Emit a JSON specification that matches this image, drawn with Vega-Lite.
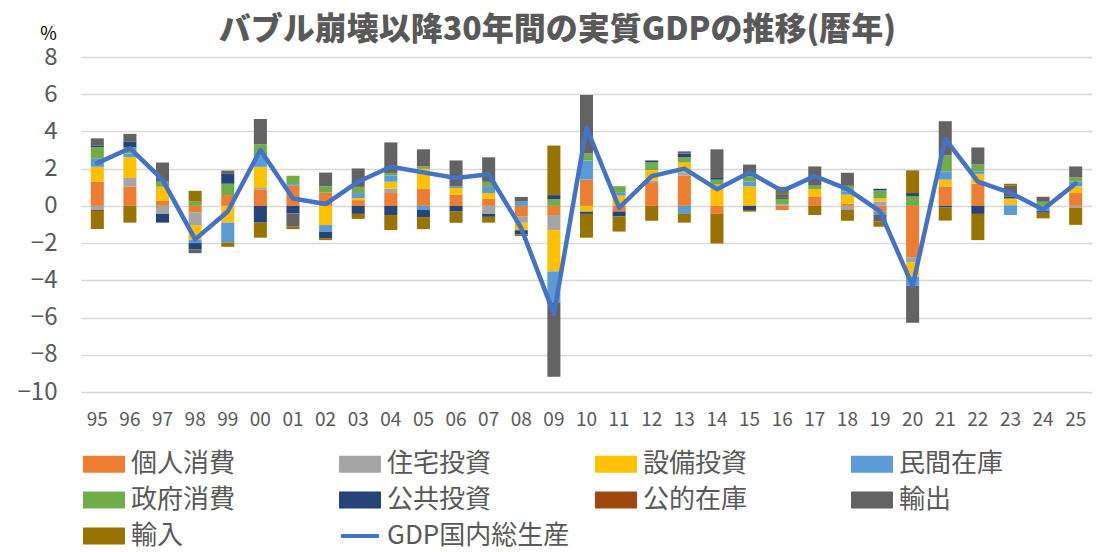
{
  "$schema": "https://vega.github.io/schema/vega-lite/v6.json",
  "autosize": "none",
  "width": 1011,
  "height": 335,
  "padding": {"left": 81, "top": 57, "right": 24, "bottom": 160},
  "background": "#ffffff",
  "config": {
    "font": "Noto Sans CJK JP",
    "view": {"stroke": null}
  },
  "title": {
    "text": "バブル崩壊以降30年間の実質GDPの推移(暦年)",
    "fontSize": 32,
    "fontWeight": 900,
    "color": "#595959",
    "anchor": "middle",
    "baseline": "alphabetic",
    "offset": 12,
    "dx": -29,
    "dy": 59
  },
  "datasets": {
    "seriesRank": [
      {"series": "個人消費", "rank": 1},
      {"series": "住宅投資", "rank": 2},
      {"series": "設備投資", "rank": 3},
      {"series": "民間在庫", "rank": 4},
      {"series": "政府消費", "rank": 5},
      {"series": "公共投資", "rank": 6},
      {"series": "公的在庫", "rank": 7},
      {"series": "輸出", "rank": 8},
      {"series": "輸入", "rank": 9}
    ],
    "contrib": [
      {"year": "95", "series": "個人消費", "value": 1.3},
      {"year": "95", "series": "住宅投資", "value": -0.22},
      {"year": "95", "series": "設備投資", "value": 0.8},
      {"year": "95", "series": "民間在庫", "value": 0.43},
      {"year": "95", "series": "政府消費", "value": 0.63},
      {"year": "95", "series": "公共投資", "value": 0.09},
      {"year": "95", "series": "公的在庫", "value": -0.1},
      {"year": "95", "series": "輸出", "value": 0.38},
      {"year": "95", "series": "輸入", "value": -0.92},

      {"year": "96", "series": "個人消費", "value": 1.03},
      {"year": "96", "series": "住宅投資", "value": 0.47},
      {"year": "96", "series": "設備投資", "value": 1.12},
      {"year": "96", "series": "民間在庫", "value": 0.2},
      {"year": "96", "series": "政府消費", "value": 0.33},
      {"year": "96", "series": "公共投資", "value": 0.29},
      {"year": "96", "series": "輸出", "value": 0.43},
      {"year": "96", "series": "輸入", "value": -0.9},

      {"year": "97", "series": "個人消費", "value": 0.27},
      {"year": "97", "series": "住宅投資", "value": -0.43},
      {"year": "97", "series": "設備投資", "value": 0.76},
      {"year": "97", "series": "政府消費", "value": 0.27},
      {"year": "97", "series": "公共投資", "value": -0.47},
      {"year": "97", "series": "輸出", "value": 1.03},

      {"year": "98", "series": "個人消費", "value": -0.34},
      {"year": "98", "series": "住宅投資", "value": -0.69},
      {"year": "98", "series": "設備投資", "value": -0.79},
      {"year": "98", "series": "民間在庫", "value": -0.18},
      {"year": "98", "series": "政府消費", "value": 0.23},
      {"year": "98", "series": "公共投資", "value": -0.34},
      {"year": "98", "series": "輸出", "value": -0.2},
      {"year": "98", "series": "輸入", "value": 0.58},

      {"year": "99", "series": "個人消費", "value": 0.58},
      {"year": "99", "series": "設備投資", "value": -0.9},
      {"year": "99", "series": "民間在庫", "value": -1.08},
      {"year": "99", "series": "政府消費", "value": 0.61},
      {"year": "99", "series": "公共投資", "value": 0.53},
      {"year": "99", "series": "輸出", "value": 0.18},
      {"year": "99", "series": "輸入", "value": -0.22},

      {"year": "00", "series": "個人消費", "value": 0.87},
      {"year": "00", "series": "住宅投資", "value": 0.09},
      {"year": "00", "series": "設備投資", "value": 1.14},
      {"year": "00", "series": "民間在庫", "value": 0.61},
      {"year": "00", "series": "政府消費", "value": 0.6},
      {"year": "00", "series": "公共投資", "value": -0.9},
      {"year": "00", "series": "輸出", "value": 1.36},
      {"year": "00", "series": "輸入", "value": -0.81},

      {"year": "01", "series": "個人消費", "value": 1.08},
      {"year": "01", "series": "民間在庫", "value": 0.09},
      {"year": "01", "series": "政府消費", "value": 0.45},
      {"year": "01", "series": "公共投資", "value": -0.4},
      {"year": "01", "series": "輸出", "value": -0.72},
      {"year": "01", "series": "輸入", "value": -0.13},

      {"year": "02", "series": "個人消費", "value": 0.72},
      {"year": "02", "series": "設備投資", "value": -1.03},
      {"year": "02", "series": "民間在庫", "value": -0.36},
      {"year": "02", "series": "政府消費", "value": 0.33},
      {"year": "02", "series": "公共投資", "value": -0.34},
      {"year": "02", "series": "輸出", "value": 0.74},
      {"year": "02", "series": "輸入", "value": -0.11},

      {"year": "03", "series": "個人消費", "value": 0.31},
      {"year": "03", "series": "設備投資", "value": 0.11},
      {"year": "03", "series": "民間在庫", "value": 0.27},
      {"year": "03", "series": "政府消費", "value": 0.33},
      {"year": "03", "series": "公共投資", "value": -0.43},
      {"year": "03", "series": "輸出", "value": 0.99},
      {"year": "03", "series": "輸入", "value": -0.27},

      {"year": "04", "series": "個人消費", "value": 0.69},
      {"year": "04", "series": "住宅投資", "value": 0.23},
      {"year": "04", "series": "設備投資", "value": 0.38},
      {"year": "04", "series": "民間在庫", "value": 0.34},
      {"year": "04", "series": "政府消費", "value": 0.13},
      {"year": "04", "series": "公共投資", "value": -0.49},
      {"year": "04", "series": "輸出", "value": 1.64},
      {"year": "04", "series": "輸入", "value": -0.81},

      {"year": "05", "series": "個人消費", "value": 0.92},
      {"year": "05", "series": "設備投資", "value": 1.07},
      {"year": "05", "series": "民間在庫", "value": -0.22},
      {"year": "05", "series": "政府消費", "value": 0.13},
      {"year": "05", "series": "公共投資", "value": -0.38},
      {"year": "05", "series": "輸出", "value": 0.92},
      {"year": "05", "series": "輸入", "value": -0.65},

      {"year": "06", "series": "個人消費", "value": 0.6},
      {"year": "06", "series": "設備投資", "value": 0.36},
      {"year": "06", "series": "民間在庫", "value": 0.09},
      {"year": "06", "series": "公共投資", "value": -0.31},
      {"year": "06", "series": "輸出", "value": 1.39},
      {"year": "06", "series": "輸入", "value": -0.6},

      {"year": "07", "series": "個人消費", "value": 0.38},
      {"year": "07", "series": "住宅投資", "value": -0.43},
      {"year": "07", "series": "設備投資", "value": 0.31},
      {"year": "07", "series": "民間在庫", "value": 0.33},
      {"year": "07", "series": "政府消費", "value": 0.27},
      {"year": "07", "series": "公共投資", "value": -0.16},
      {"year": "07", "series": "輸出", "value": 1.32},
      {"year": "07", "series": "輸入", "value": -0.31},

      {"year": "08", "series": "個人消費", "value": -0.58},
      {"year": "08", "series": "住宅投資", "value": -0.33},
      {"year": "08", "series": "設備投資", "value": -0.4},
      {"year": "08", "series": "民間在庫", "value": 0.23},
      {"year": "08", "series": "公共投資", "value": -0.23},
      {"year": "08", "series": "輸出", "value": 0.25},
      {"year": "08", "series": "輸入", "value": -0.08},

      {"year": "09", "series": "個人消費", "value": -0.49},
      {"year": "09", "series": "住宅投資", "value": -0.81},
      {"year": "09", "series": "設備投資", "value": -2.22},
      {"year": "09", "series": "民間在庫", "value": -1.66},
      {"year": "09", "series": "政府消費", "value": 0.36},
      {"year": "09", "series": "公共投資", "value": 0.22},
      {"year": "09", "series": "輸出", "value": -4.0},
      {"year": "09", "series": "輸入", "value": 2.66},

      {"year": "10", "series": "個人消費", "value": 1.41},
      {"year": "10", "series": "設備投資", "value": -0.31},
      {"year": "10", "series": "民間在庫", "value": 1.03},
      {"year": "10", "series": "政府消費", "value": 0.38},
      {"year": "10", "series": "公共投資", "value": -0.12},
      {"year": "10", "series": "輸出", "value": 3.14},
      {"year": "10", "series": "輸入", "value": -1.28},

      {"year": "11", "series": "個人消費", "value": -0.3},
      {"year": "11", "series": "設備投資", "value": 0.55},
      {"year": "11", "series": "民間在庫", "value": 0.15},
      {"year": "11", "series": "政府消費", "value": 0.36},
      {"year": "11", "series": "公共投資", "value": -0.27},
      {"year": "11", "series": "輸入", "value": -0.81},

      {"year": "12", "series": "個人消費", "value": 1.23},
      {"year": "12", "series": "住宅投資", "value": 0.13},
      {"year": "12", "series": "設備投資", "value": 0.56},
      {"year": "12", "series": "政府消費", "value": 0.42},
      {"year": "12", "series": "公共投資", "value": 0.1},
      {"year": "12", "series": "輸入", "value": -0.8},

      {"year": "13", "series": "個人消費", "value": 1.63},
      {"year": "13", "series": "住宅投資", "value": 0.18},
      {"year": "13", "series": "設備投資", "value": 0.52},
      {"year": "13", "series": "民間在庫", "value": -0.43},
      {"year": "13", "series": "政府消費", "value": 0.29},
      {"year": "13", "series": "公共投資", "value": 0.2},
      {"year": "13", "series": "輸出", "value": 0.11},
      {"year": "13", "series": "輸入", "value": -0.47},

      {"year": "14", "series": "個人消費", "value": -0.43},
      {"year": "14", "series": "設備投資", "value": 1.14},
      {"year": "14", "series": "政府消費", "value": 0.27},
      {"year": "14", "series": "公共投資", "value": 0.09},
      {"year": "14", "series": "輸出", "value": 1.54},
      {"year": "14", "series": "輸入", "value": -1.59},

      {"year": "15", "series": "設備投資", "value": 1.05},
      {"year": "15", "series": "民間在庫", "value": 0.27},
      {"year": "15", "series": "政府消費", "value": 0.27},
      {"year": "15", "series": "公共投資", "value": -0.22},
      {"year": "15", "series": "輸出", "value": 0.63},
      {"year": "15", "series": "輸入", "value": -0.09},

      {"year": "16", "series": "個人消費", "value": -0.22},
      {"year": "16", "series": "住宅投資", "value": 0.09},
      {"year": "16", "series": "政府消費", "value": 0.29},
      {"year": "16", "series": "公共投資", "value": 0.05},
      {"year": "16", "series": "輸出", "value": 0.2},
      {"year": "16", "series": "輸入", "value": 0.4},

      {"year": "17", "series": "個人消費", "value": 0.51},
      {"year": "17", "series": "設備投資", "value": 0.4},
      {"year": "17", "series": "政府消費", "value": 0.18},
      {"year": "17", "series": "輸出", "value": 1.03},
      {"year": "17", "series": "輸入", "value": -0.49},

      {"year": "18", "series": "個人消費", "value": 0.11},
      {"year": "18", "series": "住宅投資", "value": -0.22},
      {"year": "18", "series": "設備投資", "value": 0.49},
      {"year": "18", "series": "民間在庫", "value": 0.18},
      {"year": "18", "series": "政府消費", "value": 0.27},
      {"year": "18", "series": "公共投資", "value": 0.03},
      {"year": "18", "series": "輸出", "value": 0.7},
      {"year": "18", "series": "輸入", "value": -0.58},

      {"year": "19", "series": "個人消費", "value": -0.31},
      {"year": "19", "series": "住宅投資", "value": 0.23},
      {"year": "19", "series": "設備投資", "value": 0.18},
      {"year": "19", "series": "民間在庫", "value": -0.18},
      {"year": "19", "series": "政府消費", "value": 0.42},
      {"year": "19", "series": "公共投資", "value": 0.09},
      {"year": "19", "series": "輸出", "value": -0.36},
      {"year": "19", "series": "輸入", "value": -0.27},

      {"year": "20", "series": "個人消費", "value": -2.75},
      {"year": "20", "series": "住宅投資", "value": -0.27},
      {"year": "20", "series": "設備投資", "value": -0.78},
      {"year": "20", "series": "民間在庫", "value": -0.49},
      {"year": "20", "series": "政府消費", "value": 0.51},
      {"year": "20", "series": "公共投資", "value": 0.18},
      {"year": "20", "series": "輸出", "value": -1.99},
      {"year": "20", "series": "輸入", "value": 1.22},

      {"year": "21", "series": "個人消費", "value": 1.05},
      {"year": "21", "series": "設備投資", "value": 0.36},
      {"year": "21", "series": "民間在庫", "value": 0.45},
      {"year": "21", "series": "政府消費", "value": 0.85},
      {"year": "21", "series": "公共投資", "value": -0.09},
      {"year": "21", "series": "輸出", "value": 1.84},
      {"year": "21", "series": "輸入", "value": -0.7},

      {"year": "22", "series": "個人消費", "value": 1.19},
      {"year": "22", "series": "設備投資", "value": 0.53},
      {"year": "22", "series": "民間在庫", "value": 0.14},
      {"year": "22", "series": "政府消費", "value": 0.36},
      {"year": "22", "series": "公共投資", "value": -0.43},
      {"year": "22", "series": "輸出", "value": 0.92},
      {"year": "22", "series": "輸入", "value": -1.41},

      {"year": "23", "series": "住宅投資", "value": 0.09},
      {"year": "23", "series": "設備投資", "value": 0.31},
      {"year": "23", "series": "民間在庫", "value": -0.49},
      {"year": "23", "series": "公共投資", "value": 0.09},
      {"year": "23", "series": "輸出", "value": 0.59},
      {"year": "23", "series": "輸入", "value": 0.11},

      {"year": "24", "series": "個人消費", "value": -0.1},
      {"year": "24", "series": "民間在庫", "value": -0.18},
      {"year": "24", "series": "政府消費", "value": 0.22},
      {"year": "24", "series": "公共投資", "value": -0.09},
      {"year": "24", "series": "輸出", "value": 0.27},
      {"year": "24", "series": "輸入", "value": -0.3},

      {"year": "25", "series": "個人消費", "value": 0.69},
      {"year": "25", "series": "住宅投資", "value": -0.1},
      {"year": "25", "series": "設備投資", "value": 0.36},
      {"year": "25", "series": "民間在庫", "value": 0.27},
      {"year": "25", "series": "政府消費", "value": 0.22},
      {"year": "25", "series": "輸出", "value": 0.58},
      {"year": "25", "series": "輸入", "value": -0.92}
    ],
    "gdp": [
      {"year": "95", "series": "GDP国内総生産", "value": 2.3},
      {"year": "96", "series": "GDP国内総生産", "value": 3.1},
      {"year": "97", "series": "GDP国内総生産", "value": 1.4},
      {"year": "98", "series": "GDP国内総生産", "value": -1.8},
      {"year": "99", "series": "GDP国内総生産", "value": -0.3},
      {"year": "00", "series": "GDP国内総生産", "value": 3.0},
      {"year": "01", "series": "GDP国内総生産", "value": 0.4},
      {"year": "02", "series": "GDP国内総生産", "value": 0.1},
      {"year": "03", "series": "GDP国内総生産", "value": 1.3},
      {"year": "04", "series": "GDP国内総生産", "value": 2.1},
      {"year": "05", "series": "GDP国内総生産", "value": 1.8},
      {"year": "06", "series": "GDP国内総生産", "value": 1.5},
      {"year": "07", "series": "GDP国内総生産", "value": 1.7},
      {"year": "08", "series": "GDP国内総生産", "value": -1.2},
      {"year": "09", "series": "GDP国内総生産", "value": -5.8},
      {"year": "10", "series": "GDP国内総生産", "value": 4.2},
      {"year": "11", "series": "GDP国内総生産", "value": -0.1},
      {"year": "12", "series": "GDP国内総生産", "value": 1.6},
      {"year": "13", "series": "GDP国内総生産", "value": 2.0},
      {"year": "14", "series": "GDP国内総生産", "value": 0.9},
      {"year": "15", "series": "GDP国内総生産", "value": 1.8},
      {"year": "16", "series": "GDP国内総生産", "value": 0.8},
      {"year": "17", "series": "GDP国内総生産", "value": 1.6},
      {"year": "18", "series": "GDP国内総生産", "value": 0.9},
      {"year": "19", "series": "GDP国内総生産", "value": -0.3},
      {"year": "20", "series": "GDP国内総生産", "value": -4.3},
      {"year": "21", "series": "GDP国内総生産", "value": 3.6},
      {"year": "22", "series": "GDP国内総生産", "value": 1.3},
      {"year": "23", "series": "GDP国内総生産", "value": 0.7},
      {"year": "24", "series": "GDP国内総生産", "value": -0.2},
      {"year": "25", "series": "GDP国内総生産", "value": 1.2}
    ]
  },
  "encoding": {
    "x": {
      "field": "year",
      "type": "nominal",
      "sort": null,
      "scale": {"paddingInner": 0.6, "paddingOuter": 0.3},
      "axis": {
        "title": null,
        "labelAngle": 0,
        "labelFontSize": 19,
        "labelColor": "#595959",
        "labelPadding": 18,
        "ticks": false,
        "domain": false,
        "grid": false
      }
    },
    "y": {
      "field": "value",
      "type": "quantitative",
      "scale": {"domain": [-10, 8], "nice": false, "zero": false},
      "axis": {
        "title": "%",
        "titleAngle": 0,
        "titleFontSize": 18,
        "titleFontWeight": "normal",
        "titleColor": "#000000",
        "titleAlign": "center",
        "titleBaseline": "middle",
        "titleX": -33,
        "titleY": -23,
        "values": [-10, -8, -6, -4, -2, 0, 2, 4, 6, 8],
        "labelFontSize": 24,
        "labelColor": "#595959",
        "labelPadding": 24,
        "ticks": false,
        "domain": false,
        "gridColor": "#D9D9D9",
        "gridWidth": 1.5
      }
    },
    "color": {
      "field": "series",
      "type": "nominal",
      "sort": ["個人消費", "住宅投資", "設備投資", "民間在庫", "政府消費", "公共投資", "公的在庫", "輸出", "輸入", "GDP国内総生産"],
      "scale": {
        "domain": ["個人消費", "住宅投資", "設備投資", "民間在庫", "政府消費", "公共投資", "公的在庫", "輸出", "輸入", "GDP国内総生産"],
        "range": ["#ED7D31", "#A5A5A5", "#FFC000", "#5B9BD5", "#70AD47", "#264478", "#9E480E", "#636363", "#997300", "#4472C4"]
      },
      "legend": {
        "title": null,
        "orient": "none",
        "legendX": 8,
        "legendY": 392,
        "direction": "horizontal",
        "columns": 4,
        "gridAlign": "all",
        "columnPadding": 19,
        "rowPadding": 6,
        "padding": 0,
        "symbolSize": 676,
        "labelOffset": 12,
        "labelFontSize": 26,
        "labelColor": "#595959",
        "labelLimit": 400,
        "encode": {
          "symbols": {
            "update": {
              "shape": {"signal": "datum.value === 'GDP国内総生産' ? 'M-1.46,0H1.46' : 'M-1.46,-0.5H1.46V0.5H-1.46Z'"},
              "fill": {"signal": "datum.value === 'GDP国内総生産' ? 'transparent' : scale('color', datum.value)"},
              "stroke": {"signal": "datum.value === 'GDP国内総生産' ? '#4472C4' : 'transparent'"},
              "strokeWidth": {"value": 4},
              "opacity": {"value": 1},
              "fillOpacity": {"value": 1}
            }
          }
        }
      }
    }
  },
  "layer": [
    {
      "data": {"name": "contrib"},
      "transform": [
        {"lookup": "series", "from": {"data": {"name": "seriesRank"}, "key": "series", "fields": ["rank"]}}
      ],
      "mark": {"type": "bar"},
      "encoding": {
        "y": {"field": "value", "type": "quantitative", "stack": "zero"},
        "order": {"field": "rank", "type": "quantitative", "sort": "ascending"}
      }
    },
    {
      "data": {"name": "gdp"},
      "mark": {"type": "line", "strokeWidth": 4.5, "strokeJoin": "round", "strokeCap": "round"}
    }
  ]
}
